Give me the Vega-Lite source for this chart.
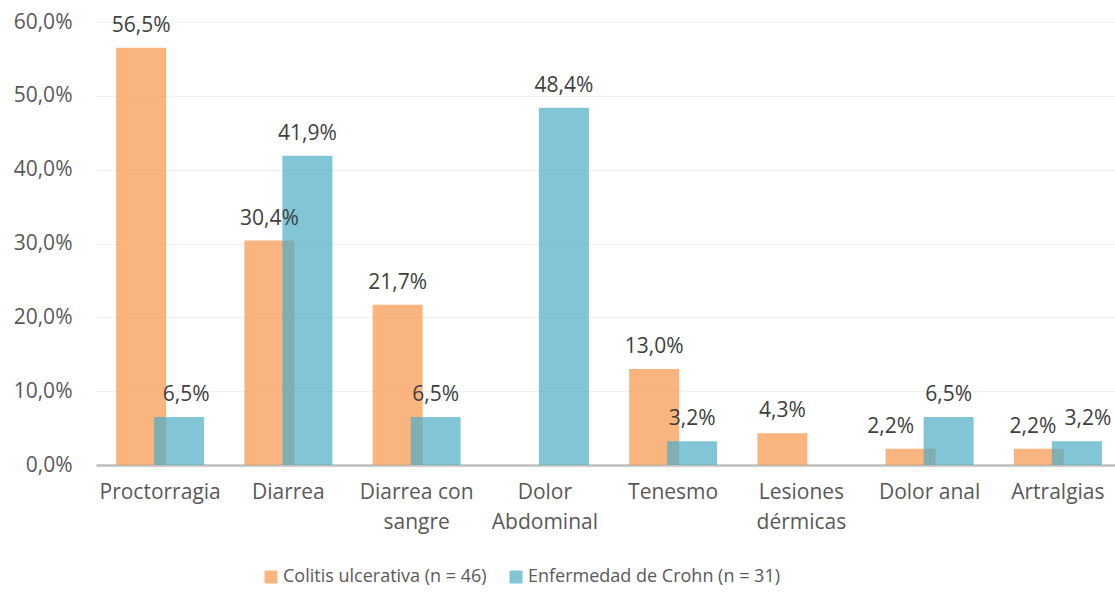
{
  "$schema": "https://vega.github.io/schema/vega-lite/v6.json",
  "width": 1019,
  "height": 443,
  "autosize": {"type": "none"},
  "padding": {"left": 96, "top": 22, "right": 0, "bottom": 127},
  "background": "white",
  "config": {
    "locale": {"number": {"decimal": ",", "thousands": ".", "grouping": [3], "currency": ["", " €"]}},
    "view": {"stroke": null},
    "font": "Open Sans",
    "text": {"fontSize": 21, "color": "#404040", "baseline": "alphabetic", "dy": -16}
  },
  "data": {
    "values": [
      {"sintoma": "Proctorragia", "grupo": "Colitis ulcerativa (n = 46)", "valor": 0.565},
      {"sintoma": "Proctorragia", "grupo": "Enfermedad de Crohn (n = 31)", "valor": 0.065},
      {"sintoma": "Diarrea", "grupo": "Colitis ulcerativa (n = 46)", "valor": 0.304},
      {"sintoma": "Diarrea", "grupo": "Enfermedad de Crohn (n = 31)", "valor": 0.419},
      {"sintoma": "Diarrea con sangre", "grupo": "Colitis ulcerativa (n = 46)", "valor": 0.217},
      {"sintoma": "Diarrea con sangre", "grupo": "Enfermedad de Crohn (n = 31)", "valor": 0.065},
      {"sintoma": "Dolor Abdominal", "grupo": "Enfermedad de Crohn (n = 31)", "valor": 0.484},
      {"sintoma": "Tenesmo", "grupo": "Colitis ulcerativa (n = 46)", "valor": 0.130},
      {"sintoma": "Tenesmo", "grupo": "Enfermedad de Crohn (n = 31)", "valor": 0.032},
      {"sintoma": "Lesiones dérmicas", "grupo": "Colitis ulcerativa (n = 46)", "valor": 0.043},
      {"sintoma": "Dolor anal", "grupo": "Colitis ulcerativa (n = 46)", "valor": 0.022},
      {"sintoma": "Dolor anal", "grupo": "Enfermedad de Crohn (n = 31)", "valor": 0.065},
      {"sintoma": "Artralgias", "grupo": "Colitis ulcerativa (n = 46)", "valor": 0.022},
      {"sintoma": "Artralgias", "grupo": "Enfermedad de Crohn (n = 31)", "valor": 0.032}
    ]
  },
  "encoding": {
    "x": {
      "field": "sintoma",
      "type": "nominal",
      "sort": ["Proctorragia", "Diarrea", "Diarrea con sangre", "Dolor Abdominal", "Tenesmo", "Lesiones dérmicas", "Dolor anal", "Artralgias"],
      "scale": {"paddingInner": 0, "paddingOuter": 0, "range": [0, 1026]},
      "axis": {
        "title": null,
        "labelAngle": 0,
        "labelFontSize": 21,
        "labelColor": "#595959",
        "labelPadding": 16,
        "labelLineHeight": 30,
        "labelBaseline": "top",
        "ticks": false,
        "domainColor": "#bfbfbf",
        "domainWidth": 2.5,
        "labelExpr": "datum.label == 'Diarrea con sangre' ? ['Diarrea con', 'sangre'] : datum.label == 'Dolor Abdominal' ? ['Dolor', 'Abdominal'] : datum.label == 'Lesiones dérmicas' ? ['Lesiones', 'dérmicas'] : datum.label"
      }
    },
    "y": {
      "field": "valor",
      "type": "quantitative",
      "scale": {"domain": [0, 0.6]},
      "axis": {
        "title": null,
        "values": [0, 0.1, 0.2, 0.3, 0.4, 0.5, 0.6],
        "format": ".1%",
        "labelFontSize": 21,
        "labelColor": "#595959",
        "labelPadding": 24,
        "domain": false,
        "ticks": false,
        "gridColor": "#efefef",
        "gridWidth": 1
      }
    },
    "color": {
      "field": "grupo",
      "type": "nominal",
      "scale": {"domain": ["Colitis ulcerativa (n = 46)", "Enfermedad de Crohn (n = 31)"], "range": ["#f79646", "#4bacc6"]},
      "legend": {
        "title": null,
        "orient": "none",
        "direction": "horizontal",
        "legendX": 166,
        "legendY": 546,
        "symbolType": "square",
        "symbolSize": 169,
        "symbolOpacity": 0.7,
        "symbolStrokeWidth": 0,
        "labelFontSize": 18,
        "labelColor": "#595959",
        "labelOffset": 3,
        "columnPadding": 20,
        "labelLimit": 400
      }
    }
  },
  "layer": [
    {
      "transform": [{"filter": "datum.grupo == 'Colitis ulcerativa (n = 46)'"}],
      "mark": {"type": "bar", "size": 50, "xOffset": -19, "opacity": 0.7}
    },
    {
      "transform": [{"filter": "datum.grupo == 'Enfermedad de Crohn (n = 31)'"}],
      "mark": {"type": "bar", "size": 50, "xOffset": 19, "opacity": 0.7}
    },
    {
      "transform": [{"filter": "datum.grupo == 'Colitis ulcerativa (n = 46)' && datum.sintoma != 'Dolor anal' && datum.sintoma != 'Artralgias'"}],
      "mark": {"type": "text", "xOffset": -19},
      "encoding": {"text": {"field": "valor", "type": "quantitative", "format": ".1%"}, "color": {"value": "#404040"}}
    },
    {
      "transform": [{"filter": "datum.grupo == 'Colitis ulcerativa (n = 46)' && datum.sintoma == 'Dolor anal'"}],
      "mark": {"type": "text", "xOffset": -39},
      "encoding": {"text": {"field": "valor", "type": "quantitative", "format": ".1%"}, "color": {"value": "#404040"}}
    },
    {
      "transform": [{"filter": "datum.grupo == 'Colitis ulcerativa (n = 46)' && datum.sintoma == 'Artralgias'"}],
      "mark": {"type": "text", "xOffset": -25},
      "encoding": {"text": {"field": "valor", "type": "quantitative", "format": ".1%"}, "color": {"value": "#404040"}}
    },
    {
      "transform": [{"filter": "datum.grupo == 'Enfermedad de Crohn (n = 31)' && datum.sintoma != 'Artralgias' && datum.sintoma != 'Proctorragia'"}],
      "mark": {"type": "text", "xOffset": 19},
      "encoding": {"text": {"field": "valor", "type": "quantitative", "format": ".1%"}, "color": {"value": "#404040"}}
    },
    {
      "transform": [{"filter": "datum.grupo == 'Enfermedad de Crohn (n = 31)' && datum.sintoma == 'Artralgias'"}],
      "mark": {"type": "text", "xOffset": 30},
      "encoding": {"text": {"field": "valor", "type": "quantitative", "format": ".1%"}, "color": {"value": "#404040"}}
    },
    {
      "transform": [{"filter": "datum.grupo == 'Enfermedad de Crohn (n = 31)' && datum.sintoma == 'Proctorragia'"}],
      "mark": {"type": "text", "xOffset": 26},
      "encoding": {"text": {"field": "valor", "type": "quantitative", "format": ".1%"}, "color": {"value": "#404040"}}
    }
  ]
}
